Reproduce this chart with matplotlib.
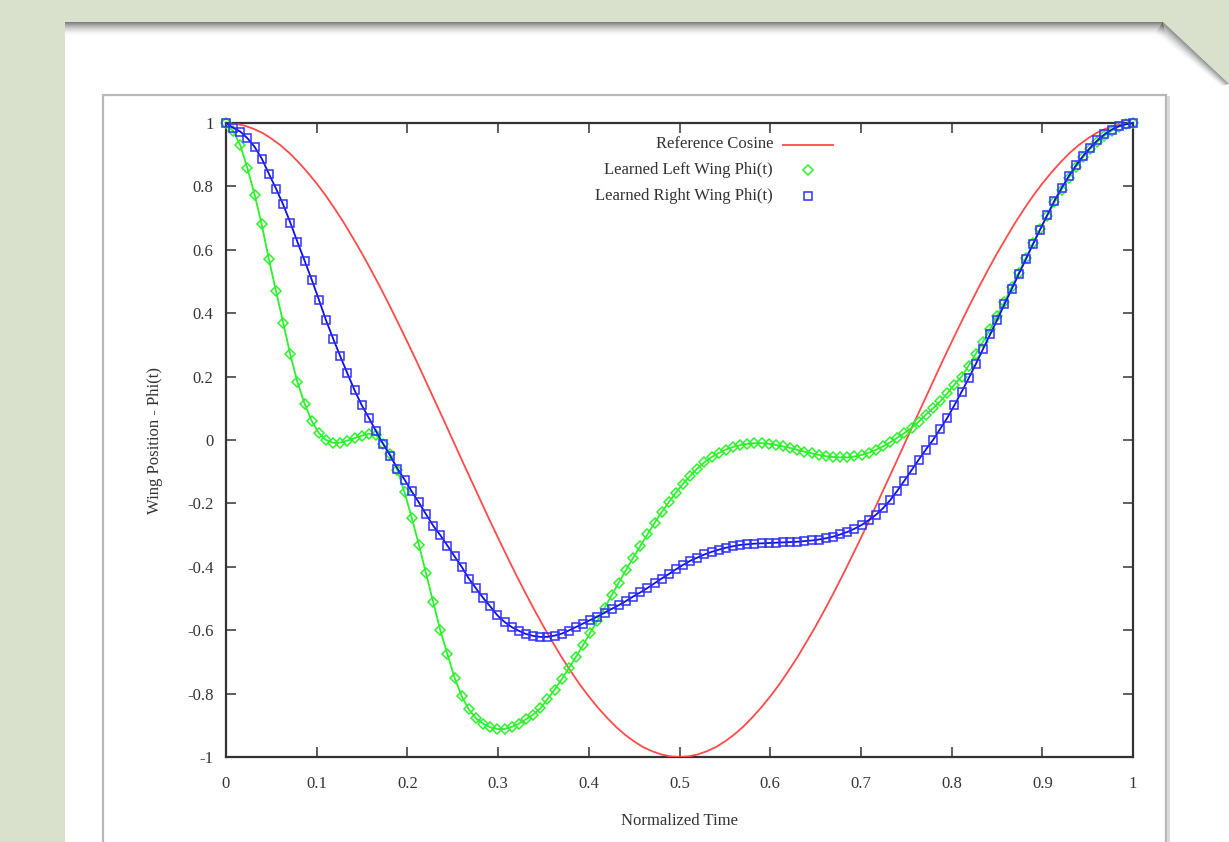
import numpy as np
import matplotlib
matplotlib.use("Agg")
import matplotlib.pyplot as plt
from matplotlib.patches import Polygon, Rectangle
from matplotlib.lines import Line2D

# ---------------- data ----------------
ref_time = [i / 100 for i in range(101)]
ref_cosine = [1.0, 0.998, 0.992, 0.982, 0.969, 0.951, 0.930, 0.905, 0.876, 0.844,
              0.809, 0.771, 0.729, 0.685, 0.637, 0.588, 0.536, 0.482, 0.426, 0.368,
              0.309, 0.249, 0.187, 0.125, 0.063, 0.0, -0.063, -0.125, -0.187, -0.249,
              -0.309, -0.368, -0.426, -0.482, -0.536, -0.588, -0.637, -0.685, -0.729, -0.771,
              -0.809, -0.844, -0.876, -0.905, -0.930, -0.951, -0.969, -0.982, -0.992, -0.998,
              -1.0, -0.998, -0.992, -0.982, -0.969, -0.951, -0.930, -0.905, -0.876, -0.844,
              -0.809, -0.771, -0.729, -0.685, -0.637, -0.588, -0.536, -0.482, -0.426, -0.368,
              -0.309, -0.249, -0.187, -0.125, -0.063, 0.0, 0.063, 0.125, 0.187, 0.249,
              0.309, 0.368, 0.426, 0.482, 0.536, 0.588, 0.637, 0.685, 0.729, 0.771,
              0.809, 0.844, 0.876, 0.905, 0.930, 0.951, 0.969, 0.982, 0.992, 0.998, 1.0]

learned_time = [i / 127 for i in range(128)]
left_wing = [1.0, 0.975, 0.93, 0.857, 0.774, 0.68, 0.57, 0.47, 0.37, 0.27,
             0.183, 0.115, 0.06, 0.022, 0.0, -0.009, -0.008, -0.002, 0.006, 0.013,
             0.02, 0.016, -0.012, -0.045, -0.095, -0.165, -0.245, -0.33, -0.42, -0.51,
             -0.6, -0.675, -0.75, -0.808, -0.85, -0.878, -0.895, -0.906, -0.912, -0.912,
             -0.905, -0.895, -0.881, -0.866, -0.847, -0.818, -0.788, -0.755, -0.72, -0.684,
             -0.647, -0.608, -0.57, -0.53, -0.49, -0.45, -0.41, -0.372, -0.335, -0.298,
             -0.262, -0.228, -0.196, -0.166, -0.138, -0.113, -0.09, -0.07, -0.054, -0.041,
             -0.03, -0.022, -0.016, -0.012, -0.01, -0.01, -0.012, -0.016, -0.02, -0.025,
             -0.031, -0.037, -0.042, -0.047, -0.051, -0.054, -0.055, -0.055, -0.052, -0.047,
             -0.04, -0.031, -0.02, -0.007, 0.007, 0.022, 0.038, 0.058, 0.08, 0.1,
             0.122, 0.147, 0.175, 0.2, 0.235, 0.272, 0.31, 0.35, 0.392, 0.436,
             0.482, 0.528, 0.574, 0.62, 0.665, 0.708, 0.75, 0.79, 0.828, 0.862,
             0.892, 0.918, 0.94, 0.96, 0.976, 0.988, 0.996, 1.0]
right_wing = [1.0, 0.985, 0.973, 0.952, 0.925, 0.888, 0.84, 0.793, 0.743, 0.686,
              0.625, 0.566, 0.506, 0.443, 0.378, 0.32, 0.264, 0.21, 0.157, 0.11,
              0.07, 0.028, -0.012, -0.05, -0.09, -0.125, -0.162, -0.197, -0.234, -0.27,
              -0.30, -0.333, -0.367, -0.4, -0.437, -0.468, -0.498, -0.525, -0.553, -0.574,
              -0.59, -0.602, -0.612, -0.618, -0.621, -0.621, -0.617, -0.611, -0.601, -0.59,
              -0.579, -0.568, -0.557, -0.545, -0.533, -0.521, -0.508, -0.494, -0.481, -0.467,
              -0.452, -0.437, -0.423, -0.408, -0.394, -0.381, -0.371, -0.361, -0.353, -0.346,
              -0.34, -0.335, -0.331, -0.329, -0.327, -0.326, -0.325, -0.324, -0.323, -0.322,
              -0.321, -0.319, -0.317, -0.314, -0.31, -0.305, -0.298, -0.29, -0.28, -0.268,
              -0.253, -0.236, -0.215, -0.19, -0.16, -0.128, -0.095, -0.062, -0.03, 0.0,
              0.035, 0.07, 0.11, 0.152, 0.195, 0.24, 0.287, 0.333, 0.38, 0.428,
              0.475, 0.523, 0.57, 0.618, 0.664, 0.71, 0.755, 0.795, 0.832, 0.866,
              0.896, 0.922, 0.945, 0.964, 0.979, 0.99, 0.996, 1.0]

x_ticks = [0, 0.1, 0.2, 0.3, 0.4, 0.5, 0.6, 0.7, 0.8, 0.9, 1]
x_tick_labels = ["0", "0.1", "0.2", "0.3", "0.4", "0.5", "0.6", "0.7", "0.8", "0.9", "1"]
y_ticks = [-1, -0.8, -0.6, -0.4, -0.2, 0, 0.2, 0.4, 0.6, 0.8, 1]
y_tick_labels = ["-1", "-0.8", "-0.6", "-0.4", "-0.2", "0", "0.2", "0.4", "0.6", "0.8", "1"]
series_labels = ["Reference Cosine", "Learned Left Wing Phi(t)", "Learned Right Wing Phi(t)"]

# ---------------- figure ----------------
W, H = 1229, 842
fig = plt.figure(figsize=(W / 100, H / 100), dpi=100)
BG = "#d9e0cc"
fig.patch.set_facecolor(BG)
FONT = "Liberation Serif"
TXT = "#333333"
RED = "#ff4a4a"
GREEN = "#2bf02b"
BLUE_LINE = "#1010e0"
BLUE_MK = "#3030ff"


def P(x, y):
    return (x / W, 1 - y / H)


def fpoly(pts, **kw):
    fig.add_artist(Polygon([P(*p) for p in pts], closed=True,
                           transform=fig.transFigure, **kw))


# paper sheet with folded corner
fpoly([(65, 22), (1163, 22), (1229, 84), (1229, 860), (65, 860)],
      facecolor="white", edgecolor="none", zorder=0)
# top edge shadow
for k in range(14):
    a = 0.5 * (1 - k / 14) ** 1.8
    fpoly([(65, 22 + k), (1163 + k * 0.2, 22 + k), (1163 + k * 0.2, 23 + k), (65, 23 + k)],
          facecolor="black", alpha=a, edgecolor="none", zorder=0.5)
# diagonal edge shadow
for k in range(12):
    a = 0.45 * (1 - k / 12) ** 1.8
    fpoly([(1163 - k * 0.7, 22 + k), (1229 - k * 0.7, 84 + k * 0.2),
           (1229 - (k + 1) * 0.7, 84 + (k + 1) * 0.2), (1163 - (k + 1) * 0.7, 23 + k)],
          facecolor="black", alpha=a, edgecolor="none", zorder=0.5)

# embedded image frame
fig.add_artist(Rectangle(P(103, 860), (1166 - 103) / W, (860 - 95) / H,
                         transform=fig.transFigure, facecolor="white",
                         edgecolor="#b8b8b8", lw=1.6, zorder=0.6))
fig.add_artist(Line2D([P(1168, 97)[0]] * 2, [P(0, 97)[1], P(0, 860)[1]],
                      transform=fig.transFigure, color="#d8d8d8", lw=2, zorder=0.6))

# ---------------- axes ----------------
x0, x1, y0, y1 = 226, 1133, 123, 757
ax = fig.add_axes([x0 / W, 1 - y1 / H, (x1 - x0) / W, (y1 - y0) / H])
ax.set_zorder(2)
ax.patch.set_alpha(0)
ax.set_xlim(0, 1)
ax.set_ylim(-1, 1)

ax.plot(ref_time, ref_cosine, color=RED, lw=1.3, zorder=3)
ax.plot(learned_time, left_wing, color=GREEN, lw=1.3, marker="D", ms=5.0,
        mfc="none", mec=GREEN, mew=1.1, zorder=4, clip_on=False)
ax.plot(learned_time, right_wing, color=BLUE_LINE, lw=1.3, marker="s", ms=6.2,
        mfc="none", mec=BLUE_MK, mew=1.1, zorder=5, clip_on=False)

ax.set_xticks(x_ticks)
ax.set_xticklabels(x_tick_labels)
ax.set_yticks(y_ticks)
ax.set_yticklabels(y_tick_labels)
ax.tick_params(direction="in", length=7, width=1.1, color="#333333",
               top=True, right=True, labelsize=12, labelcolor=TXT, pad=9)
for lab in ax.get_xticklabels() + ax.get_yticklabels():
    lab.set_fontfamily(FONT)
ax.tick_params(axis="x", pad=14)
for s in ax.spines.values():
    s.set_color("#333333")
    s.set_linewidth(1.6)

ax.set_xlabel("Normalized Time", fontfamily=FONT, fontsize=12, color=TXT, labelpad=15)
ax.set_ylabel("Wing Position - Phi(t)", fontfamily=FONT, fontsize=12, color=TXT, labelpad=17)

# key (gnuplot style, right-justified text)
key_rows = [144, 170, 196]
for (lbl, yy) in zip(series_labels, key_rows):
    fig.text(*P(773, yy), lbl, ha="right", va="center", fontfamily=FONT,
             fontsize=12, color=TXT, zorder=3)
fig.add_artist(Line2D([P(783, 0)[0], P(833, 0)[0]], [P(0, 145)[1]] * 2,
                      transform=fig.transFigure, color=RED, lw=1.3, zorder=3))
fig.add_artist(Line2D([P(808, 0)[0]], [P(0, 170)[1]], transform=fig.transFigure,
                      marker="D", ms=5.0, mfc="none", mec=GREEN, mew=1.1, ls="none", zorder=3))
fig.add_artist(Line2D([P(808, 0)[0]], [P(0, 196)[1]], transform=fig.transFigure,
                      marker="s", ms=6.2, mfc="none", mec=BLUE_MK, mew=1.1, ls="none", zorder=3))

fig.savefig("out.png", dpi=100, facecolor=fig.get_facecolor())
